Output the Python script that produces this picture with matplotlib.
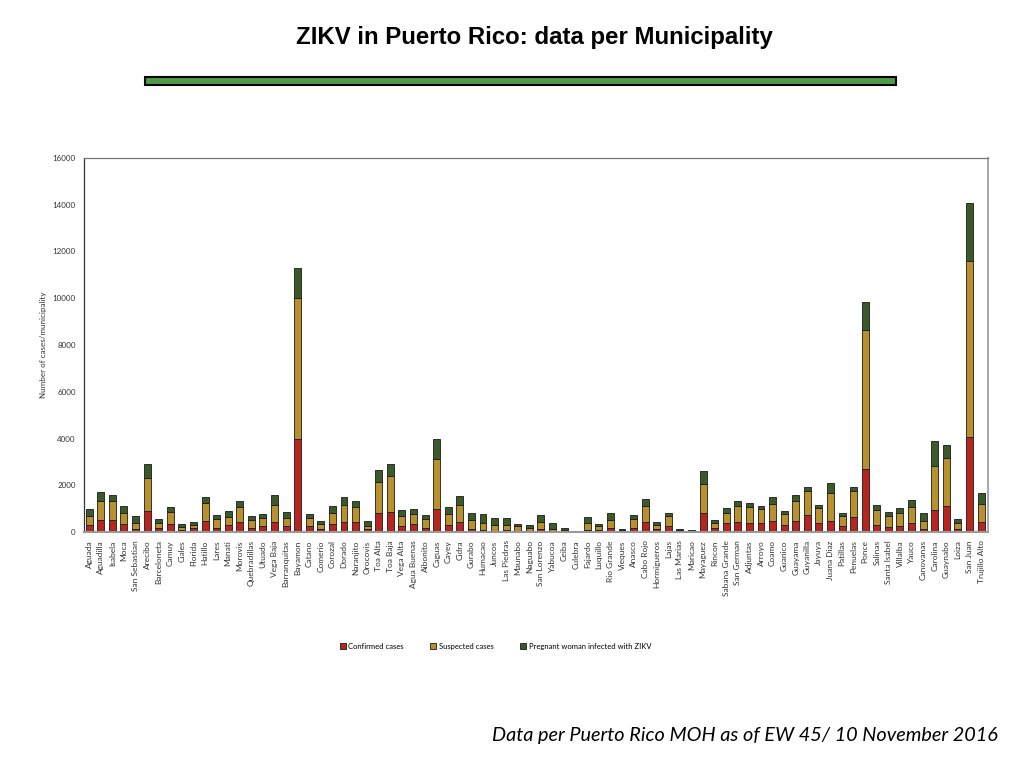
import matplotlib.pyplot as plt
import matplotlib.patches as mpatches
import numpy as np

municipios = ["Aguada", "Aguadilla", "Isabela", "Moca", "San Sebastian", "Arecibo",
              "Barceloneta", "Camuy", "Ciales", "Florida", "Hatillo", "Lares", "Manati",
              "Morovis", "Quebradillas", "Utuado", "Vega Baja", "Barranquitas", "Bayamon",
              "Catano", "Comerio", "Corozal", "Dorado", "Naranjito", "Orocovis", "Toa Alta",
              "Toa Baja", "Vega Alta", "Agua Buenas", "Aibonito", "Caguas", "Cayey", "Cidra",
              "Gurabo", "Humacao", "Juncos", "Las Piedras", "Maunabo", "Naguabo",
              "San Lorenzo", "Yabucoa", "Ceiba", "Culebra", "Fajardo", "Luquillo",
              "Rio Grande", "Vieques", "Anasco", "Cabo Rojo", "Hormigueros", "Lajas",
              "Las Marias", "Maricao", "Mayaguez", "Rincon", "Sabana Grande", "San German",
              "Adjuntas", "Arroyo", "Coamo", "Guanico", "Guayama", "Guyanilla", "Jayuya",
              "Juana Diaz", "Patillas", "Penuelas", "Ponce", "Salinas", "Santa Isabel",
              "Villalba", "Yauco", "Canovanas", "Carolina", "Guaynabo", "Loiza", "San Juan",
              "Trujillo Alto"]

confirmados = [290, 530, 530, 330, 140, 915, 160, 330, 100, 160, 485, 160, 285,
               445, 185, 245, 445, 245, 3990, 245, 145, 330, 445, 415, 115, 800,
               845, 255, 330, 185, 970, 285, 445, 145, 100, 55, 100, 45, 45,
               145, 45, 30, 20, 100, 100, 170, 45, 185, 415, 115, 245,
               30, 25, 815, 160, 370, 415, 370, 400, 455, 285, 485, 715, 400,
               485, 245, 630, 2685, 285, 230, 255, 400, 145, 945, 1130, 115, 4085,
               415]

sospechosos = [400, 800, 800, 500, 260, 1400, 210, 540, 130, 140, 770, 385, 345,
               640, 345, 340, 730, 370, 6035, 370, 215, 500, 715, 670, 145, 1345,
               1530, 430, 455, 360, 2170, 485, 730, 370, 300, 230, 215, 210, 125,
               300, 100, 40, 15, 300, 145, 330, 25, 360, 685, 200, 440,
               40, 35, 1255, 225, 460, 685, 715, 600, 760, 485, 860, 1040, 645,
               1200, 440, 1130, 5955, 645, 455, 575, 685, 340, 1885, 2015, 270, 7500,
               800]

embarazadas = [280, 360, 240, 285, 290, 585, 175, 215, 125, 130, 260, 200, 285,
               255, 170, 200, 400, 260, 1260, 170, 130, 285, 330, 260, 200, 515,
               530, 270, 200, 170, 830, 285, 345, 285, 355, 315, 270, 75, 130,
               285, 255, 100, 25, 230, 85, 300, 75, 170, 330, 130, 115,
               70, 40, 530, 115, 200, 215, 145, 115, 300, 145, 255, 175, 100,
               400, 130, 170, 1190, 245, 170, 215, 285, 330, 1055, 570, 160, 2500,
               455]

series = ["Confirmed cases", "Suspected cases", "Pregnant woman infected with ZIKV"]
colores = ["#B8241E", "#B8902E", "#3C5A27"]

fig = plt.figure(figsize=(10.24, 7.68), dpi=100)
fig.patch.set_facecolor("white")

# titulo y barra verde
fig.text(0.522, 0.951, "ZIKV in Puerto Rico: data per Municipality", ha="center", va="center",
         fontsize=17.3, fontweight="bold", family="Liberation Sans")
fig.patches.append(mpatches.Rectangle((145 / 1024, 1 - 85 / 768), 751 / 1024, 8 / 768,
                                      transform=fig.transFigure, facecolor="#4E9A45",
                                      edgecolor="black", linewidth=1.5))

ax = fig.add_axes([84 / 1024, 1 - 532 / 768, 904 / 1024, 374 / 768])
x = np.arange(len(municipios))
w = 0.6
abajo = np.zeros(len(municipios))
for vals, nombre, col in zip([confirmados, sospechosos, embarazadas], series, colores):
    ax.bar(x, vals, w, bottom=abajo, color=col, edgecolor="#1a1a1a", linewidth=0.6, label=nombre)
    abajo = abajo + np.array(vals)

ax.set_xlim(-0.45, 77.6)
ax.set_ylim(0, 16000)
ax.set_yticks(np.arange(0, 16001, 2000))
ax.set_xticks(x)
ax.set_xticklabels(municipios, rotation=90, fontsize=6, family="Lato", color="#333333")
for t in ax.get_yticklabels():
    t.set_fontsize(5.8)
    t.set_family("Lato")
    t.set_color("#333333")
ax.tick_params(axis="both", length=0, pad=6)
ax.set_ylabel("Number of cases/municipality", fontsize=5.8, family="Lato", color="#333333", labelpad=4)

ax.spines["left"].set_color("#333333")
ax.spines["left"].set_linewidth(0.9)
ax.spines["bottom"].set_color("#999999")
ax.spines["bottom"].set_linewidth(1.5)
ax.spines["top"].set_color("#777777")
ax.spines["right"].set_color("#999999")
ax.spines["top"].set_linewidth(0.9)
ax.spines["right"].set_linewidth(1.2)

ax.legend(loc="center", bbox_to_anchor=(0.455, -0.305), ncol=3, frameon=False,
          prop={"family": "Lato", "size": 5.5}, handlelength=0.8, handleheight=0.8,
          handletextpad=0.3, columnspacing=3.5)

fig.text(0.974, 0.042, "Data per Puerto Rico MOH as of EW 45/ 10 November 2016", ha="right",
         va="center", fontsize=14.3, style="italic", family="Lato")

fig.savefig("out.png", dpi=100)
